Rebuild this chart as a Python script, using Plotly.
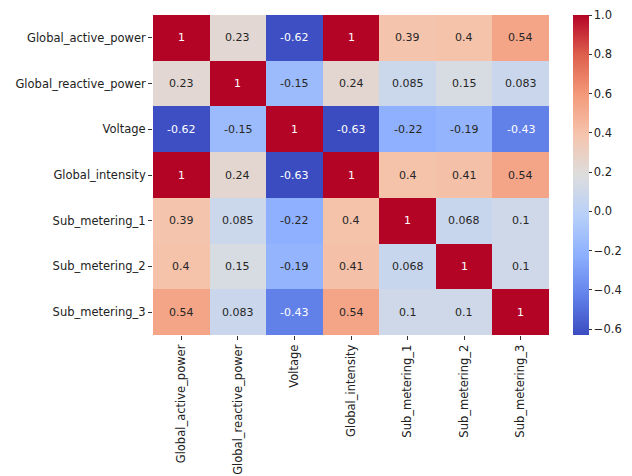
import plotly.graph_objects as go

labels = ["Global_active_power", "Global_reactive_power", "Voltage",
          "Global_intensity", "Sub_metering_1", "Sub_metering_2", "Sub_metering_3"]

row_gap = [1, 0.23, -0.62, 1, 0.39, 0.4, 0.54]
row_grp = [0.23, 1, -0.15, 0.24, 0.085, 0.15, 0.083]
row_v = [-0.62, -0.15, 1, -0.63, -0.22, -0.19, -0.43]
row_gi = [1, 0.24, -0.63, 1, 0.4, 0.41, 0.54]
row_sm1 = [0.39, 0.085, -0.22, 0.4, 1, 0.068, 0.1]
row_sm2 = [0.4, 0.15, -0.19, 0.41, 0.068, 1, 0.1]
row_sm3 = [0.54, 0.083, -0.43, 0.54, 0.1, 0.1, 1]

z = [row_gap, row_grp, row_v, row_gi, row_sm1, row_sm2, row_sm3]

cbar_ticks = [-0.6, -0.4, -0.2, 0.0, 0.2, 0.4, 0.6, 0.8, 1.0]

# matplotlib "coolwarm"
cw = [(0.0, (59, 76, 192)), (0.125, (98, 130, 234)), (0.25, (141, 176, 254)),
      (0.375, (184, 208, 249)), (0.5, (221, 221, 221)), (0.625, (245, 196, 173)),
      (0.75, (244, 154, 123)), (0.875, (222, 96, 77)), (1.0, (180, 4, 38))]
colorscale = [[p, "rgb(%d,%d,%d)" % c] for p, c in cw]

zmin = min(min(r) for r in z)
zmax = max(max(r) for r in z)


def color_at(v):
    t = (v - zmin) / (zmax - zmin)
    for (p0, c0), (p1, c1) in zip(cw[:-1], cw[1:]):
        if t <= p1:
            f = (t - p0) / (p1 - p0) if p1 > p0 else 0
            return tuple(c0[i] + f * (c1[i] - c0[i]) for i in range(3))
    return cw[-1][1]


def lum(c):
    def ch(x):
        x = x / 255
        return x / 12.92 if x <= 0.03928 else ((x + 0.055) / 1.055) ** 2.4
    r, g, b = (ch(v) for v in c)
    return 0.2126 * r + 0.7152 * g + 0.0722 * b


TICKFONT = dict(family="DejaVu Sans", size=11.5, color="#222")

fig = go.Figure(go.Heatmap(
    z=z, x=labels, y=labels, colorscale=colorscale, zmin=zmin, zmax=zmax,
    xgap=0, ygap=0,
    colorbar=dict(
        x=1.0606, xanchor="left", xref="paper", y=0.5, yanchor="middle",
        len=1.0, lenmode="fraction", thickness=16, outlinewidth=0,
        xpad=0, ypad=0, ticklabeloverflow="allow",
        tickvals=cbar_ticks, ticktext=[("%.1f" % t).replace("-", "\u2212") for t in cbar_ticks],
        ticks="outside", ticklen=3, tickcolor="#333", tickwidth=1,
        tickfont=TICKFONT,
    ),
))

annotations = []
for i, rl in enumerate(labels):
    for j, cl in enumerate(labels):
        v = z[i][j]
        col = "white" if lum(color_at(v)) < 0.408 else "#262626"
        annotations.append(dict(x=cl, y=rl, text=format(v, ".2g"), showarrow=False,
                                font=dict(family="DejaVu Sans", size=11, color=col)))

# page body has an 8px default margin, so the figure is sized/offset to compensate
fig.update_layout(
    width=624, height=468,
    margin=dict(l=145, r=83, t=7, b=141, autoexpand=False),
    paper_bgcolor="white", plot_bgcolor="white",
    annotations=annotations,
    font=dict(family="DejaVu Sans", size=11, color="#222"),
)
fig.update_xaxes(tickangle=-90, ticks="outside", ticklen=4, tickcolor="#333",
                 showgrid=False, zeroline=False, showline=False, tickfont=TICKFONT,
                 automargin=False)
fig.update_yaxes(autorange="reversed", ticks="outside", ticklen=4, tickcolor="#333",
                 showgrid=False, zeroline=False, showline=False, tickfont=TICKFONT,
                 automargin=False)

fig.write_html("out.html")
